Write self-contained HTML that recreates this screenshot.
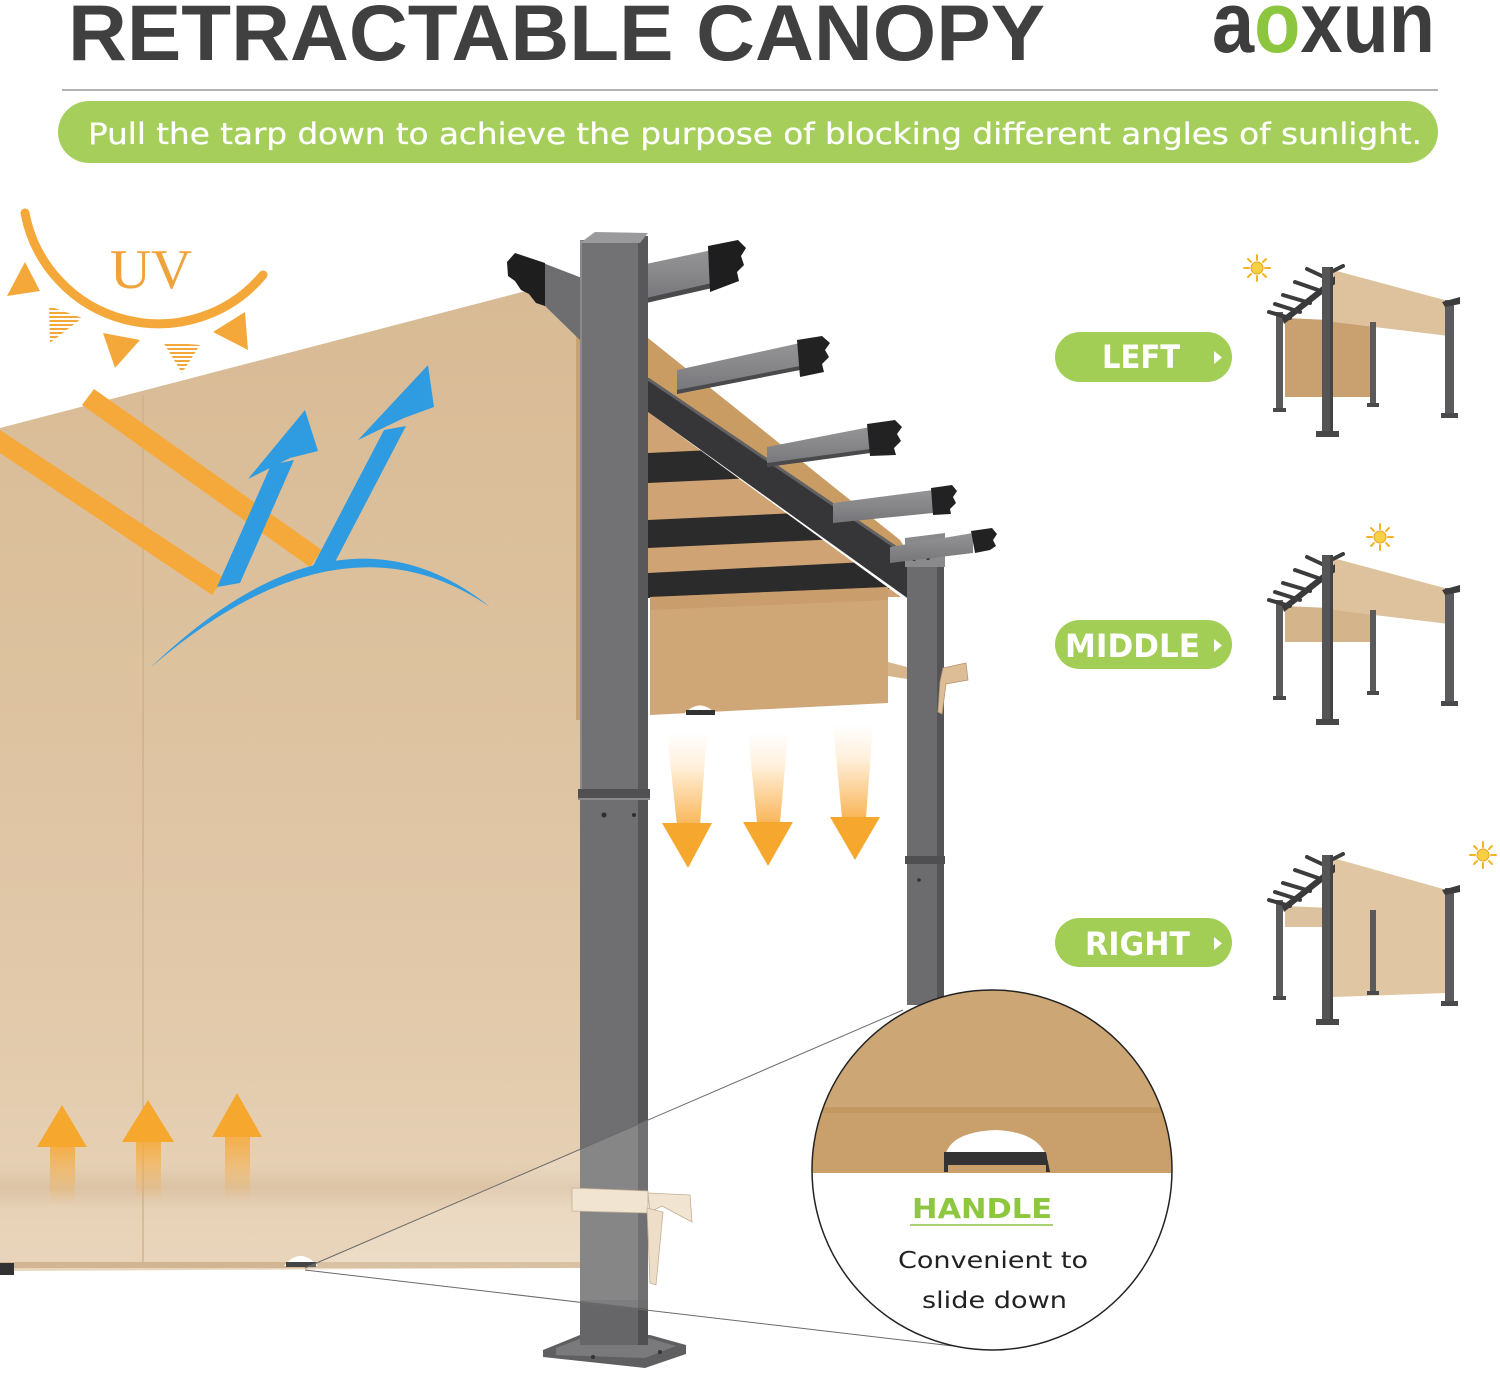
<!DOCTYPE html>
<html><head><meta charset="utf-8">
<style>
html,body{margin:0;padding:0;background:#fff;}
svg{display:block;}
text{font-family:"Liberation Sans","DejaVu Sans",sans-serif;}
.dj{font-family:"DejaVu Sans","Liberation Sans",sans-serif;}
</style></head><body>
<svg width="1500" height="1373" viewBox="0 0 1500 1373" xmlns="http://www.w3.org/2000/svg">
<defs>
  <linearGradient id="fab" gradientUnits="userSpaceOnUse" x1="0" y1="290" x2="0" y2="1270">
    <stop offset="0" stop-color="#d8bb95"/>
    <stop offset="0.4" stop-color="#ddc29f"/>
    <stop offset="0.8" stop-color="#e3cbad"/>
    <stop offset="1" stop-color="#e9d5bb"/>
  </linearGradient>
  <linearGradient id="shad" x1="0" y1="0" x2="0" y2="1">
    <stop offset="0" stop-color="#c9a985" stop-opacity="0"/>
    <stop offset="0.5" stop-color="#c9a985" stop-opacity="0.35"/>
    <stop offset="1" stop-color="#c9a985" stop-opacity="0"/>
  </linearGradient>
  <linearGradient id="dg" x1="0" y1="0" x2="0" y2="1">
    <stop offset="0" stop-color="#ffffff"/>
    <stop offset="0.35" stop-color="#fff1de"/>
    <stop offset="1" stop-color="#f9b658"/>
  </linearGradient>
  <linearGradient id="ug" x1="0" y1="0" x2="0" y2="1">
    <stop offset="0" stop-color="#f6ab3c" stop-opacity="0.9"/>
    <stop offset="1" stop-color="#f6ab3c" stop-opacity="0"/>
  </linearGradient>
  <linearGradient id="raf" x1="0" y1="0" x2="0" y2="1">
    <stop offset="0" stop-color="#959597"/>
    <stop offset="1" stop-color="#76767a"/>
  </linearGradient>
  <pattern id="str" width="4" height="4" patternUnits="userSpaceOnUse">
    <rect width="4" height="2" fill="#f5a83a"/>
  </pattern>
  <clipPath id="under">
    <polygon points="648,412 905,600 905,720 648,720"/>
  </clipPath>
  <clipPath id="circ">
    <circle cx="992" cy="1170" r="180"/>
  </clipPath>
  <g id="sun">
    <g stroke="#f2b422" stroke-width="2" stroke-linecap="round">
      <line x1="0" y1="-8" x2="0" y2="-13"/><line x1="0" y1="8" x2="0" y2="13"/>
      <line x1="-8" y1="0" x2="-13" y2="0"/><line x1="8" y1="0" x2="13" y2="0"/>
      <line x1="6" y1="6" x2="9" y2="9"/><line x1="-6" y1="-6" x2="-9" y2="-9"/>
      <line x1="6" y1="-6" x2="9" y2="-9"/><line x1="-6" y1="6" x2="-9" y2="9"/>
    </g>
    <circle r="6" fill="#f9cf45" stroke="#e9a51e" stroke-width="1"/>
  </g>
  <g id="mini">
    <rect x="1276" y="312" width="7" height="100" fill="#5a5a5c"/>
    <rect x="1273" y="408" width="13" height="4" fill="#4a4a4c"/>
    <rect x="1370" y="322" width="6" height="84" fill="#5a5a5c"/>
    <rect x="1367" y="403" width="12" height="4" fill="#4a4a4c"/>
    <rect x="1445" y="300" width="9" height="116" fill="#5b5b5d"/>
    <rect x="1441" y="413" width="17" height="5" fill="#4a4a4c"/>
    <polygon points="1442,302 1460,297 1460,304 1445,307" fill="#3c3c3e"/>
    <polygon points="1282,318 1335,276 1335,284 1284,324" fill="#3a3a3a"/>
    <g stroke="#3c3c3c" stroke-width="4" stroke-linecap="round">
      <line x1="1307" y1="269" x2="1322" y2="276"/>
      <line x1="1295" y1="282" x2="1318" y2="290"/>
      <line x1="1283" y1="295" x2="1310" y2="303"/>
      <line x1="1275" y1="304" x2="1300" y2="312"/>
      <line x1="1269" y1="312" x2="1290" y2="318"/>
      <line x1="1333" y1="271" x2="1343" y2="266"/>
    </g>
    <rect x="1322" y="267" width="11" height="167" fill="#555557"/>
    <rect x="1330" y="267" width="3" height="167" fill="#444446"/>
    <rect x="1316" y="431" width="23" height="6" fill="#48484a"/>
  </g>
</defs>

<!-- Header -->
<text x="68" y="60" font-size="79" font-weight="bold" fill="#404040" textLength="977" lengthAdjust="spacingAndGlyphs">RETRACTABLE CANOPY</text>
<text x="1212" y="52" font-size="86" font-weight="bold" fill="#3d3d3d" textLength="223" lengthAdjust="spacingAndGlyphs">a<tspan fill="#8cc63f">o</tspan>xun</text>
<line x1="62" y1="90" x2="1438" y2="90" stroke="#b2b2b2" stroke-width="2"/>
<rect x="58" y="101" width="1380" height="62" rx="31" fill="#a5cf5a"/>
<text class="dj" x="88" y="144" font-size="29" fill="#fff" stroke="#fff" stroke-width="0.3" textLength="1334" lengthAdjust="spacingAndGlyphs">Pull the tarp down to achieve the purpose of blocking different angles of sunlight.</text>

<!-- Big front fabric -->
<polygon points="0,428 545,286 582,286 582,1268 0,1271" fill="url(#fab)"/>
<line x1="143" y1="395" x2="143" y2="1268" stroke="#cbad88" stroke-width="1.2"/>
<rect x="0" y="1165" width="580" height="45" fill="url(#shad)"/>
<rect x="0" y="1262" width="580" height="6" fill="#d2b592"/>
<rect x="0" y="1263" width="14" height="12" fill="#333"/>
<path d="M284,1266 Q300,1246 318,1266 Z" fill="#fff"/>
<rect x="286" y="1262" width="30" height="5" fill="#444"/>

<!-- UV icon -->
<path d="M25,213 A136,136 0 0 0 263,275" fill="none" stroke="#f5a83a" stroke-width="9" stroke-linecap="round"/>
<text x="110" y="288" font-size="56" fill="#f0a33a" textLength="82" lengthAdjust="spacingAndGlyphs" style="font-family:'Liberation Serif',serif">UV</text>
<polygon points="7,296 40,291 25,262" fill="#f5a83a"/>
<polygon points="49,306 82,318 50,343" fill="url(#str)"/>
<polygon points="103,333 140,340 115,368" fill="#f5a83a"/>
<polygon points="163,342 200,345 182,373" fill="url(#str)"/>
<polygon points="213,332 245,312 248,350" fill="#f5a83a"/>

<!-- orange bands -->
<polygon points="94,389 322,550 310,567 82,405" fill="#f5a93a"/>
<polygon points="0,430 224,578 212,595 0,453" fill="#f5a93a"/>

<!-- blue arrows -->
<path d="M150,668 Q340,486 490,607 Q340,504 150,668 Z" fill="#2f9be0"/>
<polygon points="217,587 240,583 294,460 271,465" fill="#2f9be0"/>
<polygon points="305,410 318,451 290,458 248,479" fill="#2f9be0"/>
<polygon points="313,566 335,562 406,426 384,430" fill="#2f9be0"/>
<polygon points="428,365 434,407 404,418 358,440" fill="#2f9be0"/>

<!-- up arrows -->
<rect x="50" y="1146" width="25" height="58" fill="url(#ug)"/>
<polygon points="62,1105 87,1147 37,1147" fill="#f6a82e"/>
<rect x="136" y="1141" width="25" height="60" fill="url(#ug)"/>
<polygon points="148,1100 174,1142 122,1142" fill="#f6a82e"/>
<rect x="225" y="1136" width="25" height="64" fill="url(#ug)"/>
<polygon points="237,1093 262,1137 212,1137" fill="#f6a82e"/>

<!-- canopy underside -->
<g clip-path="url(#under)">
  <rect x="648" y="400" width="257" height="197" fill="#cfa373"/>
  <polygon points="648,453 905,441 905,471 648,483" fill="#2b2b2b"/>
  <polygon points="648,520 905,508 905,536 648,548" fill="#2b2b2b"/>
  <polygon points="648,573 905,560 905,588 648,598" fill="#2b2b2b"/>
</g>
<polygon points="650,597 888,587 888,703 650,715" fill="#cfa676"/>
<polygon points="650,597 888,587 888,600 650,610" fill="#c49866" opacity="0.6"/>
<path d="M683,715 Q700,696 717,715 Z" fill="#fff"/>
<rect x="686" y="710" width="29" height="5" fill="#333"/>
<rect x="576" y="300" width="6" height="420" fill="#c9a271"/>
<!-- tan strip above beam -->
<polygon points="648,338 900,540 910,556 648,380" fill="#c99c64"/>
<!-- beam -->
<polygon points="648,378 910,556 910,600 648,412" fill="#363638"/>
<line x1="648" y1="379" x2="910" y2="557" stroke="#626264" stroke-width="3"/>

<!-- right post -->
<rect x="907" y="565" width="30" height="440" fill="#6c6c6e"/>
<rect x="937" y="565" width="7" height="440" fill="#545456"/>
<rect x="905" y="856" width="40" height="8" fill="#4f4f51"/>
<circle cx="919" cy="880" r="1.8" fill="#333"/>
<polygon points="905,538 945,533 945,567 905,567" fill="#8a8a8c"/>
<circle cx="914" cy="547" r="2" fill="#333"/><circle cx="928" cy="546" r="2" fill="#333"/>
<circle cx="914" cy="559" r="2" fill="#333"/><circle cx="928" cy="558" r="2" fill="#333"/>
<!-- tie right post -->
<polygon points="888,662 907,667 907,679 888,676" fill="#d8b68c"/>
<polygon points="943,668 966,663 968,680 946,684 942,714 938,712 940,682" fill="#dcbd95" stroke="#b89570" stroke-width="0.8"/>

<!-- rafters -->
<polygon points="677,370 800,343 800,370 677,394" fill="url(#raf)"/>
<polygon points="677,390 800,366 800,370 677,394" fill="#4a4a4c"/>
<polygon points="797,340 822,336 830,343 825,350 829,357 822,364 824,372 800,377" fill="#222"/>
<polygon points="767,447 870,427 870,453 767,467" fill="url(#raf)"/>
<polygon points="767,463 870,449 870,453 767,467" fill="#4a4a4c"/>
<polygon points="867,424 895,420 902,427 897,434 901,441 894,448 896,455 870,456" fill="#222"/>
<polygon points="833,503 933,490 933,513 833,523" fill="url(#raf)"/>
<polygon points="931,488 952,485 957,491 953,497 956,503 950,509 951,514 933,515" fill="#222"/>
<polygon points="890,547 973,533 973,553 890,563" fill="url(#raf)"/>
<polygon points="971,531 992,528 997,534 993,540 996,546 990,550 975,553" fill="#222"/>
<!-- left rafter -->
<polygon points="543,263 582,278 582,342 543,304" fill="#6e6e70"/>
<polygon points="507,262 515,253 545,263 545,306 536,303 529,294 521,290 515,281 508,276" fill="#1e1e1e"/>
<!-- rafter 1 -->
<polygon points="646,264 712,250 712,288 646,303" fill="url(#raf)"/>
<polygon points="646,298 712,283 712,288 646,303" fill="#4a4a4c"/>
<polygon points="708,246 738,240 746,248 741,256 744,265 737,272 739,281 710,292" fill="#1e1e1e"/>

<!-- front post -->
<rect x="580" y="240" width="58" height="552" fill="#727274"/>
<rect x="638" y="236" width="10" height="556" fill="#58585a"/>
<rect x="580" y="240" width="2" height="552" fill="#8a8a8c"/>
<polygon points="580,243 595,232 648,233 640,243" fill="#9a9a9c"/>
<rect x="578" y="789" width="72" height="10" fill="#505052"/>
<rect x="578" y="798" width="72" height="2" fill="#8a8a8c"/>
<rect x="580" y="800" width="58" height="537" fill="#6f6f71"/>
<rect x="638" y="800" width="10" height="537" fill="#555557"/>
<circle cx="604" cy="815" r="2.5" fill="#2e2e2e"/><circle cx="634" cy="815" r="2" fill="#2e2e2e"/>
<circle cx="640" cy="1330" r="2" fill="#2e2e2e"/>
<!-- base plate -->
<polygon points="543,1350 580,1335 650,1335 686,1345 686,1354 645,1368 543,1357" fill="#5f5f61"/>
<polygon points="556,1348 582,1338 648,1338 676,1346 645,1358 556,1355" fill="#7a7a7c"/>
<rect x="580" y="1300" width="68" height="45" fill="#666668"/>
<rect x="638" y="1300" width="10" height="45" fill="#505052"/>
<circle cx="593" cy="1357" r="2" fill="#333"/><circle cx="660" cy="1352" r="2" fill="#333"/>

<!-- front post tie -->
<polygon points="572,1188 648,1191 648,1213 572,1211" fill="#efe0ca" stroke="#b9a083" stroke-width="0.8"/>
<polygon points="648,1193 690,1195 692,1222 662,1206 650,1212" fill="#efe0ca" stroke="#b9a083" stroke-width="0.8"/>
<polygon points="647,1208 663,1212 656,1285 650,1283" fill="#ead8bf" stroke="#b9a083" stroke-width="0.8"/>

<!-- down arrows -->
<polygon points="667,733 707,733 700,825 677,825" fill="url(#dg)"/>
<polygon points="662,823 712,823 688,868" fill="#f6a82e"/>
<polygon points="748,733 788,733 780,823 757,823" fill="url(#dg)"/>
<polygon points="743,822 793,822 768,866" fill="#f6a82e"/>
<polygon points="833,725 873,725 866,818 842,818" fill="url(#dg)"/>
<polygon points="830,817 880,817 855,860" fill="#f6a82e"/>

<!-- magnifier cone -->
<polygon points="305,1268 903,1010 987,1350" fill="#fff" opacity="0.16"/>
<line x1="305" y1="1268" x2="903" y2="1010" stroke="#6a6a6a" stroke-width="1"/>
<line x1="305" y1="1270" x2="987" y2="1350" stroke="#6a6a6a" stroke-width="1"/>

<!-- circle -->
<circle cx="992" cy="1170" r="180" fill="#fff"/>
<g clip-path="url(#circ)">
  <rect x="810" y="985" width="365" height="188" fill="#c9a06b"/>
  <rect x="810" y="985" width="365" height="123" fill="#cca675"/>
  <rect x="810" y="1107" width="365" height="6" fill="#c1975f" opacity="0.8"/>
  <path d="M945,1158 Q948,1132 996,1130 Q1040,1132 1048,1160 Z" fill="#fff"/>
  <path d="M944,1152 L1046,1152 L1050,1172 L944,1172 Z" fill="#333"/>
  <rect x="948" y="1165" width="98" height="8" fill="#c9a06b"/>
</g>
<circle cx="992" cy="1170" r="180" fill="none" stroke="#222" stroke-width="1.5"/>
<text class="dj" x="912" y="1218" font-size="28" font-weight="bold" fill="#8dc63f" textLength="140" lengthAdjust="spacingAndGlyphs">HANDLE</text>
<line x1="910" y1="1225" x2="1053" y2="1225" stroke="#a9d173" stroke-width="2"/>
<text class="dj" x="898" y="1268" font-size="23" fill="#222" textLength="190" lengthAdjust="spacingAndGlyphs">Convenient to</text>
<text class="dj" x="922" y="1308" font-size="23" fill="#222" textLength="145" lengthAdjust="spacingAndGlyphs">slide down</text>

<!-- right side pills -->
<rect x="1055" y="332" width="177" height="50" rx="25" fill="#a2ce55"/>
<text class="dj" x="1102" y="368" font-size="32" font-weight="bold" fill="#fff" textLength="78" lengthAdjust="spacingAndGlyphs">LEFT</text>
<polygon points="1214,351 1214,364 1222,357.5" fill="#fff"/>
<rect x="1055" y="620" width="177" height="49" rx="24.5" fill="#a2ce55"/>
<text class="dj" x="1065" y="657" font-size="32" font-weight="bold" fill="#fff" textLength="135" lengthAdjust="spacingAndGlyphs">MIDDLE</text>
<polygon points="1214,639 1214,652 1222,645.5" fill="#fff"/>
<rect x="1055" y="918" width="177" height="49" rx="24.5" fill="#a2ce55"/>
<text class="dj" x="1085" y="955" font-size="32" font-weight="bold" fill="#fff" textLength="105" lengthAdjust="spacingAndGlyphs">RIGHT</text>
<polygon points="1214,937 1214,950 1222,943.5" fill="#fff"/>

<!-- mini 1 -->
<polygon points="1285,318 1373,322 1373,397 1285,397" fill="#c9a070"/>
<polygon points="1333,270 1452,302 1449,336 1333,322" fill="#dec29d"/>
<use href="#mini"/>
<use href="#sun" transform="translate(1257,268)"/>
<!-- mini 2 -->
<g transform="translate(0,288)">
  <polygon points="1285,318 1373,322 1373,354 1285,354" fill="#d4b48b"/>
  <polygon points="1333,270 1452,302 1449,336 1333,322" fill="#dec29d"/>
  <use href="#mini"/>
</g>
<use href="#sun" transform="translate(1380,537)"/>
<!-- mini 3 -->
<g transform="translate(0,588)">
  <polygon points="1285,318 1330,320 1330,339 1285,339" fill="#dcc29e"/>
  <polygon points="1333,270 1447,302 1447,405 1333,409" fill="#e0c6a2"/>
  <use href="#mini"/>
</g>
<use href="#sun" transform="translate(1483,855)"/>
</svg>
</body></html>
